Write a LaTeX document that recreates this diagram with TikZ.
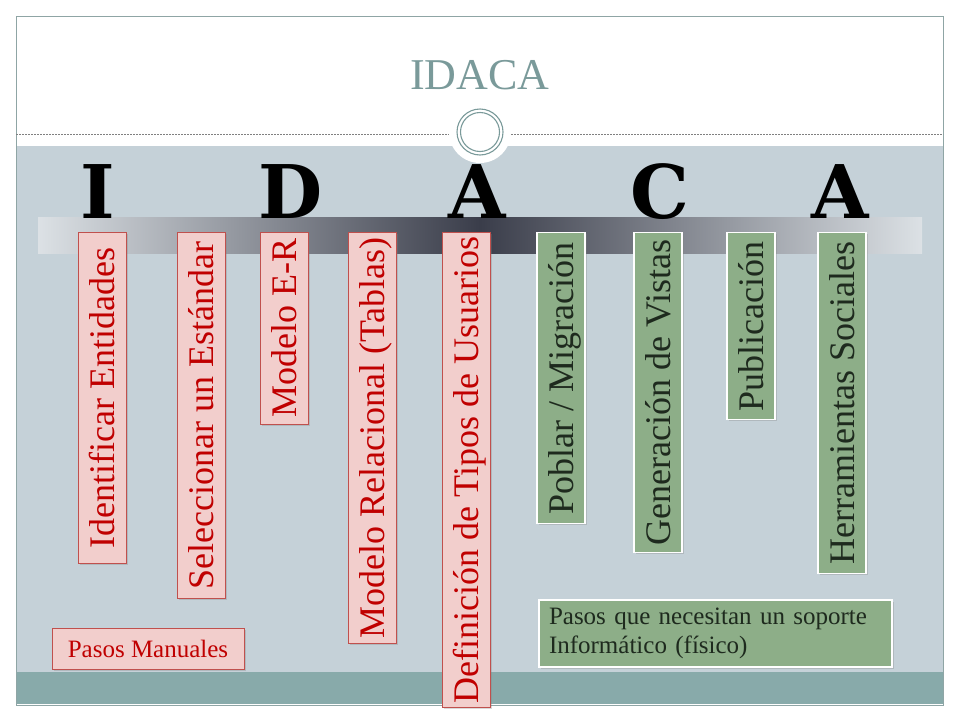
\documentclass[tikz,border=0pt]{standalone}
\usepackage{fontspec}
\setmainfont{Liberation Serif}
\newfontfamily\capfont{DejaVu Serif}
\usetikzlibrary{shadows}
\definecolor{panel}{HTML}{C5D1D8}
\definecolor{band}{HTML}{88AAAA}
\definecolor{frameline}{HTML}{8FA5A5}
\definecolor{titlegray}{HTML}{7A9A9A}
\definecolor{barlight}{HTML}{DCE1E5}
\definecolor{bardark}{HTML}{3A3D4A}
\definecolor{pinkfill}{HTML}{F2CECC}
\definecolor{pinkline}{HTML}{C0504D}
\definecolor{redtext}{HTML}{C00000}
\definecolor{greenfill}{HTML}{8DAE88}
\definecolor{greentext}{HTML}{1E2A1E}

\begin{document}
\begin{tikzpicture}[x=1pt, y=-1pt,
    manual/.style={draw=pinkline, fill=pinkfill, text=redtext, line width=0.8pt, drop shadow={opacity=0.3, shadow xshift=1.5pt, shadow yshift=-1.5pt}},
    computer/.style={draw=white, fill=greenfill, text=greentext, line width=1.2pt, drop shadow={opacity=0.3, shadow xshift=1.5pt, shadow yshift=-1.5pt}},
    stepcard/.style={rotate=90, anchor=east, minimum height=48pt, inner ysep=0pt, text height=24.5pt, text depth=0pt, font=\fontsize{36}{36}\selectfont},
    key/.style={font=\fontsize{25}{29}\selectfont, inner xsep=10pt},
    letter/.style={font=\capfont\bfseries\fontsize{74}{74}\selectfont, anchor=base, inner sep=0pt, text=black}]

    \useasboundingbox (0,0) rectangle (960,720);
    \fill[panel] (16,146) rectangle (943,672);
    \fill[band] (16,672) rectangle (943,704);
    \draw[frameline, line width=0.8pt] (16,16) rectangle (943,705);
    \draw[gray, line width=0.5pt, dash pattern=on 2pt off 1pt] (16,134) -- (943,134);
    \fill[white] (480,132) circle (31);
    \draw[titlegray, line width=1.1pt] (480,132) circle (23) (480,132) circle (19.5);

    \node[titlegray, font=\fontsize{44}{44}\selectfont, anchor=base] (title) at (480,89) {IDACA};

    \shade[left color=barlight, right color=barlight, middle color=bardark] (38,217) rectangle (922,253);

    \foreach \x/\c [count=\i] in {98/I, 291/D, 477/A, 660/C, 840/A}
        \node[letter] (l\i) at (\x,218) {\c};

    \node[manual, stepcard, minimum width=331pt] (ident) at (102,232) {Identificar Entidades};
    \node[manual, stepcard, minimum width=366pt] (estandar) at (201,232) {Seleccionar un Estándar};
    \node[manual, stepcard, minimum width=192pt] (modeloer) at (284,232) {Modelo E-R};
    \node[manual, stepcard, minimum width=411pt] (relacional) at (372,232) {Modelo Relacional (Tablas)};
    \node[manual, stepcard, minimum width=475pt] (usuarios) at (466,232) {Definición de Tipos de Usuarios};
    \node[computer, stepcard, minimum width=291pt] (poblar) at (561,232) {Poblar / Migración};
    \node[computer, stepcard, minimum width=320pt] (vistas) at (658,232) {Generación de Vistas};
    \node[computer, stepcard, minimum width=187pt] (publica) at (751,232) {Publicación};
    \node[computer, stepcard, minimum width=341pt] (sociales) at (842,232) {Herramientas Sociales};

    \node[manual, key, minimum width=192pt, minimum height=41pt] (keymanual) at (148,648.5) {Pasos Manuales};
    \node[computer, key, text width=333pt, minimum height=67pt, align=left] (keyinfo) at (715.5,633.5) {Pasos que necesitan un soporte\\Informático (físico)};
\end{tikzpicture}
\end{document}
